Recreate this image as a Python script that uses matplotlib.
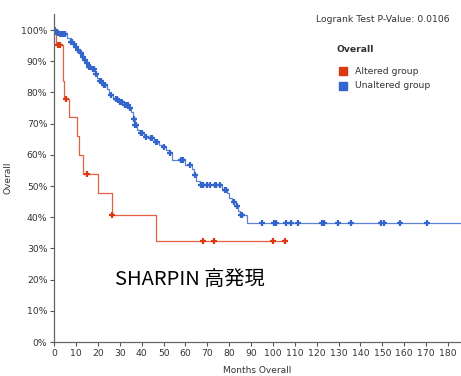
import matplotlib
matplotlib.use("Agg")
import matplotlib.pyplot as plt
import numpy as np

# ---- data ----
red_times = [0, 1, 4, 4.6, 6.8, 10.5, 11.2, 13.3, 20, 26.3, 46.5]
red_surv = [100, 95.2, 83.5, 78, 72, 66, 60, 54, 47.6, 40.7, 32.5]
red_end = 106
red_censor = [1.5, 2.5, 5.4, 15, 26.5, 68, 73, 100, 105.5]

blue_times = [0, 0.5, 1, 2, 6, 7.5, 8.5, 9.5, 10.5, 11.5, 12.5, 13.5, 14.5, 15.5, 17, 18.5,
              19.5, 20.5, 22, 24, 25, 27, 29, 32, 34, 35.2, 36, 36.7, 38, 39, 41, 43, 45.8,
              48, 49.5, 51, 52.6, 54, 60, 63.1, 64, 65, 66.5, 76.8, 79, 80, 81.3, 83, 84,
              85, 88]
blue_surv = [100, 99.5, 99, 98.6, 97.5, 96, 95.4, 94.5, 93.5, 92.5, 91.5, 90.5, 89.5, 88.2,
             87.5, 86, 84.5, 83.5, 82.4, 81, 79.2, 78, 77, 76, 75, 73.8, 71.5, 69.5, 68, 66.9,
             65.8, 65.3, 64.2, 63.2, 62.6, 61.5, 60.5, 58.3, 56.7, 55.6, 53.5, 51.5, 50.3,
             48.7, 47.6, 46, 45, 43.5, 42, 40.7, 38.2]
blue_end = 186
blue_censor = [0.3, 0.8, 1.5, 2.5, 3, 4, 4.5, 5, 7.8, 8.2, 9, 10, 11, 12, 13, 14, 15, 16, 16.5,
               17.5, 18, 19, 21, 21.5, 22.5, 23, 26, 28, 28.5, 30, 31, 32.5, 33, 33.5, 34.5,
               36.3, 37, 37.5, 39.5, 40, 42, 44, 44.5, 46.5, 47, 50, 53, 58, 59, 62, 64.5,
               67, 67.5, 68, 70, 71, 73.5, 74, 76, 78, 78.5, 82, 83.5, 85.3, 85.7,
               95, 100.5, 101.4, 105.8, 108.4, 111.4, 122.4, 123.3, 129.7, 135.8, 149.6,
               151, 158.3, 170.3]

x_ticks = list(range(0, 181, 10))
y_ticks = list(range(0, 101, 10))
pvalue_text = "Logrank Test P-Value: 0.0106"
legend_title = "Overall"
legend_labels = ["Altered group", "Unaltered group"]
annotation = "SHARPIN 高発現"

RED = "#dc3912"
BLUE = "#3366cc"

def surv_at(times, surv, t):
    idx = np.searchsorted(times, t, side="right") - 1
    return surv[max(idx, 0)]

fig = plt.figure(figsize=(4.61, 3.76), dpi=100)
ax = fig.add_axes([0.1178, 0.0904, 0.8822, 0.8713])

for times, surv, end, cens, col, lw in [
    (red_times, red_surv, red_end, red_censor, RED, 0.9),
    (blue_times, blue_surv, blue_end, blue_censor, BLUE, 0.9),
]:
    xs = list(times) + [end]
    ys = list(surv) + [surv[-1]]
    ax.step(xs, ys, where="post", color=col, lw=lw, alpha=0.8)
    cy = [surv_at(times, surv, c) for c in cens]
    ax.plot(cens, cy, linestyle="none", marker="+", color=col, ms=4.5, mew=1.6)

ax.set_xlim(0, 186)
ax.set_ylim(0, 105)
ax.set_xticks(x_ticks)
ax.set_yticks(y_ticks)
ax.set_yticklabels([f"{v}%" for v in y_ticks])
ax.tick_params(axis="both", labelsize=6.7, colors="#555555", labelcolor="#333333",
               length=3, width=0.8, direction="out", pad=2)
for s in ["top", "right"]:
    ax.spines[s].set_visible(False)
for s in ["left", "bottom"]:
    ax.spines[s].set_color("#666666")
    ax.spines[s].set_linewidth(0.9)

ax.set_xlabel("Months Overall", fontsize=6.5, color="#333333", labelpad=6)
ax.set_ylabel("Overall", fontsize=6.5, color="#333333", labelpad=6)

fig.text(450 / 461, 1 - 20 / 376, pvalue_text, ha="right", va="center", fontsize=6.7,
         color="#333333")
fig.text(336.5 / 461, 1 - 50 / 376, legend_title, ha="left", va="center", fontsize=6.7,
         fontweight="bold", color="#333333")
for i, (lab, col) in enumerate(zip(legend_labels, [RED, BLUE])):
    yc = 1 - (71 + 14.7 * i) / 376
    fig.patches.append(plt.Rectangle((339 / 461, yc - 4 / 376), 8 / 461, 8 / 376,
                                     transform=fig.transFigure, color=col, figure=fig))
    fig.text(355 / 461, yc, lab, ha="left", va="center", fontsize=6.7, color="#333333")

ax.text(27.8, 19.9, annotation, ha="left", va="center", fontsize=14.5, color="black",
        family=["Noto Sans CJK JP", "DejaVu Sans"])

fig.savefig("out.png", dpi=100)
